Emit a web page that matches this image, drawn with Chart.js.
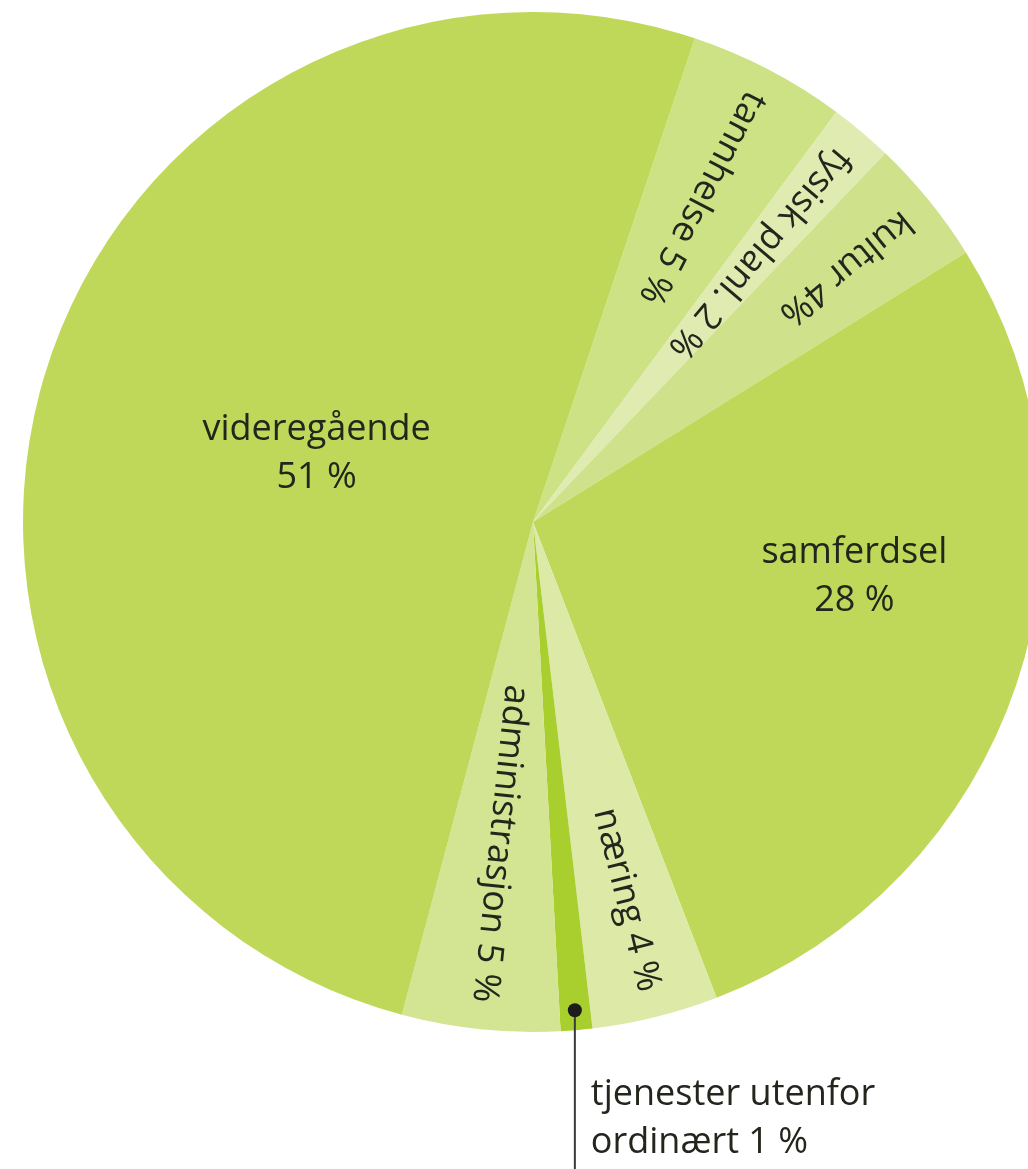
<!DOCTYPE html>
<html lang="no">
<head>
<meta charset="utf-8">
<title>Fordeling av driftsutgifter</title>
<script src="https://cdn.jsdelivr.net/npm/chart.js@4.4.1/dist/chart.umd.min.js"></script>
<style>
    html, body {
        margin: 0;
        padding: 0;
        background: #ffffff;
        overflow: hidden;
    }
    #wrap {
        position: absolute;
        left: 0;
        top: 0;
        width: 1060px;
        height: 1169px;
    }
</style>
</head>
<body>
<div id="wrap">
    <canvas id="pieChart" width="1060" height="1169"></canvas>
</div>
<script>
// Data
const sectors = ['tannhelse', 'fysisk planl.', 'kultur', 'samferdsel', 'næring', 'tjenester utenfor ordinært', 'administrasjon', 'videregående'];
const shares = [5, 2, 4, 28, 4, 1, 5, 51];
const shareTexts = ['5 %', '2 %', '4%', '28 %', '4 %', '1 %', '5 %', '51 %'];

const sliceColors = ['#cde185', '#dfebb0', '#cfe18b', '#c0d85a', '#dce9a7', '#a8cf2e', '#d3e492', '#c0d85a'];
const textColor = '#23261c';
const font = '36px "Open Sans", "Noto Sans", sans-serif';

// hvordan hver etikett tegnes
const labelModes = ['radial', 'radial', 'radial', 'block', 'radial', 'callout', 'radial', 'block'];
const blockSpots = { 3: [101.5, 328], 7: [285, 224] };   // grader fra toppen, avstand fra sentrum

const labelPlugin = {
    id: 'sliceLabels',
    afterDatasetsDraw(chart) {
        const ctx = chart.ctx;
        const arcs = chart.getDatasetMeta(0).data;
        ctx.save();
        ctx.font = font;
        ctx.fillStyle = textColor;

        arcs.forEach((arc, i) => {
            const p = arc.getProps(['x', 'y', 'startAngle', 'endAngle', 'outerRadius'], true);
            const mid = (p.startAngle + p.endAngle) / 2;
            const text = sectors[i] + ' ' + shareTexts[i];
            const mode = labelModes[i];

            if (mode === 'radial') {
                const r = p.outerRadius - 27;
                const ax = p.x + Math.cos(mid) * r;
                const ay = p.y + Math.sin(mid) * r;
                ctx.save();
                ctx.translate(ax, ay);
                ctx.textBaseline = 'middle';
                if (Math.sin(mid) > 0) {
                    // nederst: les utover
                    ctx.rotate(mid);
                    ctx.textAlign = 'right';
                } else {
                    // øverst: les innover
                    ctx.rotate(mid + Math.PI);
                    ctx.textAlign = 'left';
                }
                ctx.fillText(text, 0, 0);
                ctx.restore();
            } else if (mode === 'block') {
                const spot = blockSpots[i];
                const a = (spot[0] - 90) * Math.PI / 180;
                const bx = p.x + Math.cos(a) * spot[1];
                const by = p.y + Math.sin(a) * spot[1];
                ctx.textAlign = 'center';
                ctx.textBaseline = 'alphabetic';
                ctx.fillText(sectors[i], bx, by - 24);
                ctx.fillText(shareTexts[i], bx, by + 24);
            } else if (mode === 'callout') {
                const r = p.outerRadius - 20;
                const dx = p.x + Math.cos(mid) * r;
                const dy = p.y + Math.sin(mid) * r;
                ctx.strokeStyle = '#3a3a3a';
                ctx.lineWidth = 2;
                ctx.beginPath();
                ctx.moveTo(dx, dy);
                ctx.lineTo(dx, chart.height);
                ctx.stroke();
                ctx.fillStyle = '#1c1c1c';
                ctx.beginPath();
                ctx.arc(dx, dy, 7, 0, Math.PI * 2);
                ctx.fill();
                ctx.fillStyle = textColor;
                ctx.textAlign = 'left';
                ctx.textBaseline = 'alphabetic';
                ctx.fillText('tjenester utenfor', dx + 16, dy + 95);
                ctx.fillText('ordinært ' + shareTexts[i], dx + 16, dy + 143);
            }
        });
        ctx.restore();
    }
};

const chart = new Chart(document.getElementById('pieChart'), {
    type: 'pie',
    data: {
        labels: sectors,
        datasets: [{
            data: shares,
            backgroundColor: sliceColors,
            borderWidth: 0
        }]
    },
    options: {
        responsive: false,
        animation: false,
        rotation: 18.5,
        layout: {
            padding: { left: 23, top: 12, right: 17, bottom: 137 }
        },
        plugins: {
            legend: { display: false },
            tooltip: { enabled: false }
        }
    },
    plugins: [labelPlugin]
});
</script>
</body>
</html>
